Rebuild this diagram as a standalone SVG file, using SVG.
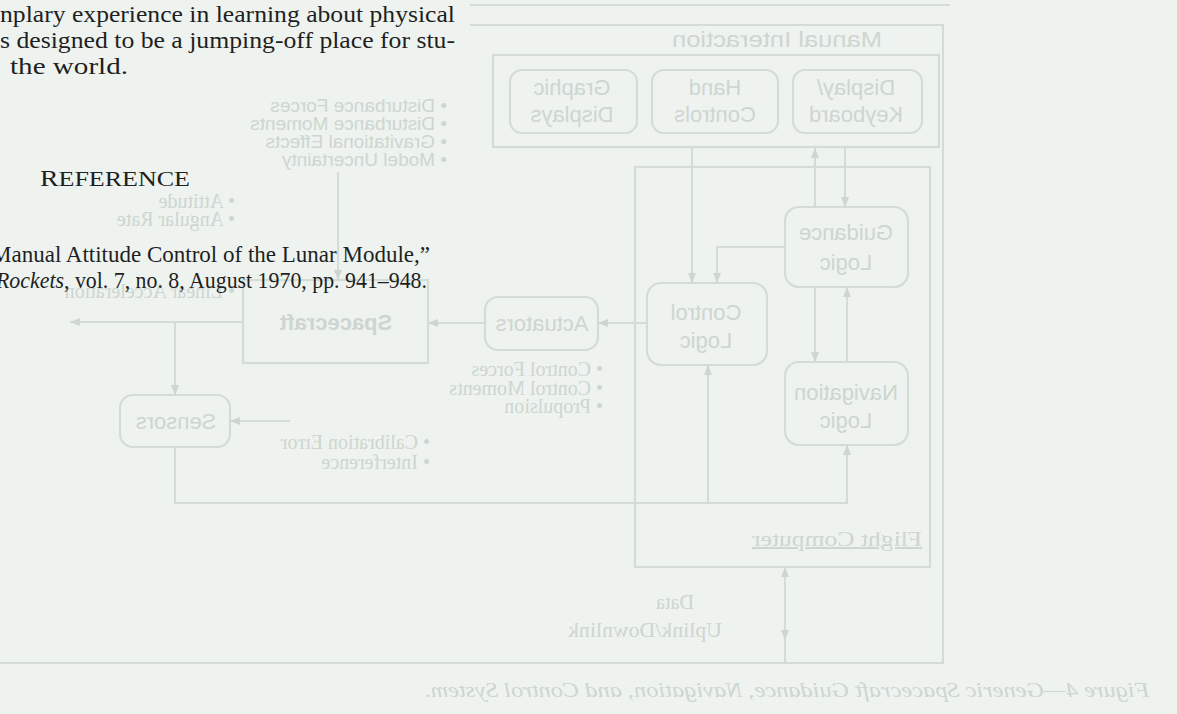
<svg xmlns="http://www.w3.org/2000/svg" width="1177" height="714" viewBox="0 0 1177 714">
<defs>
<style>
.fg{font-family:"Liberation Serif",serif;fill:#1f1f1f;font-size:23.5px}
.ln{fill:none;stroke:#d4dcd7;stroke-width:2}
.bx{fill:none;stroke:#d4dcd7;stroke-width:2.2}
.t{font-family:"Liberation Sans",sans-serif;font-size:22px;fill:#cdd6d0;text-anchor:middle}
.tb{font-weight:bold}
.ls{font-family:"Liberation Sans",sans-serif;font-size:19px;fill:#cdd6d0}
.lr{font-family:"Liberation Serif",serif;font-size:20px;fill:#cdd6d0}
.arr{fill:none;stroke:#d4dcd7;stroke-width:2;marker-end:url(#ah)}
</style>
<marker id="ah" viewBox="0 0 10 8" refX="10" refY="4" markerWidth="11" markerHeight="8" orient="auto" markerUnits="userSpaceOnUse"><path d="M0,0 L10,4 L0,8 Z" fill="#cdd6d0"/></marker>
</defs>
<rect width="1177" height="714" fill="#eef3ef"/>

<g id="frame">
<path class="ln" d="M470,5 H950"/>
<path class="ln" d="M470,25 H943 V663 H0"/>
</g>

<g id="manual-interaction">
<rect class="bx" x="493" y="55" width="446" height="92"/>
<text class="t" transform="translate(777,0) scale(-1,1)" x="0" y="47" textLength="210" lengthAdjust="spacingAndGlyphs">Manual Interaction</text>
</g>
<g id="graphic-displays">
<rect class="bx" x="510" y="70" width="127" height="63" rx="12"/>
<text class="t" transform="translate(572,0) scale(-1,1)" x="0" y="95">Graphic</text>
<text class="t" transform="translate(572,0) scale(-1,1)" x="0" y="122">Displays</text>
</g>
<g id="hand-controls">
<rect class="bx" x="652" y="70" width="126" height="63" rx="12"/>
<text class="t" transform="translate(715,0) scale(-1,1)" x="0" y="95">Hand</text>
<text class="t" transform="translate(715,0) scale(-1,1)" x="0" y="122">Controls</text>
</g>
<g id="display-keyboard">
<rect class="bx" x="793" y="70" width="129" height="63" rx="12"/>
<text class="t" transform="translate(856,0) scale(-1,1)" x="0" y="95">Display/</text>
<text class="t" transform="translate(856,0) scale(-1,1)" x="0" y="122">Keyboard</text>
</g>

<g id="flight-computer">
<rect class="bx" x="635" y="167" width="295" height="400"/>
<text class="lr" transform="translate(837,0) scale(-1,1)" x="0" y="546" text-anchor="middle" font-size="22" text-decoration="underline" textLength="170" lengthAdjust="spacingAndGlyphs">Flight Computer</text>
</g>
<g id="guidance-logic">
<rect class="bx" x="785" y="207" width="123" height="80" rx="14"/>
<text class="t" transform="translate(846,0) scale(-1,1)" x="0" y="240">Guidance</text>
<text class="t" transform="translate(846,0) scale(-1,1)" x="0" y="270">Logic</text>
</g>
<g id="control-logic">
<rect class="bx" x="647" y="283" width="120" height="82" rx="14"/>
<text class="t" transform="translate(706,0) scale(-1,1)" x="0" y="320">Control</text>
<text class="t" transform="translate(706,0) scale(-1,1)" x="0" y="348">Logic</text>
</g>
<g id="navigation-logic">
<rect class="bx" x="785" y="362" width="123" height="83" rx="14"/>
<text class="t" transform="translate(846,0) scale(-1,1)" x="0" y="400">Navigation</text>
<text class="t" transform="translate(846,0) scale(-1,1)" x="0" y="428">Logic</text>
</g>
<g id="actuators">
<rect class="bx" x="485" y="297" width="113" height="53" rx="13"/>
<text class="t" transform="translate(542,0) scale(-1,1)" x="0" y="331">Actuators</text>
</g>
<g id="spacecraft">
<rect class="bx" x="243" y="280" width="185" height="83"/>
<text class="t tb" transform="translate(336,0) scale(-1,1)" x="0" y="330">Spacecraft</text>
</g>
<g id="sensors">
<rect class="bx" x="120" y="395" width="110" height="52" rx="13"/>
<text class="t" transform="translate(176,0) scale(-1,1)" x="0" y="429">Sensors</text>
</g>

<g id="disturbance-list" transform="translate(447,0) scale(-1,1)">
<text class="ls" x="0" y="112">• Disturbance Forces</text>
<text class="ls" x="0" y="130">• Disturbance Moments</text>
<text class="ls" x="0" y="148">• Gravitational Effects</text>
<text class="ls" x="0" y="166">• Model Uncertainty</text>
</g>
<g id="state-list" transform="translate(235,0) scale(-1,1)">
<text class="lr" x="0" y="208">• Attitude</text>
<text class="lr" x="0" y="226">• Angular Rate</text>
<text class="lr" x="0" y="298">• Linear Acceleration</text>
</g>
<g id="actuator-list" transform="translate(603,0) scale(-1,1)">
<text class="lr" x="0" y="376">• Control Forces</text>
<text class="lr" x="0" y="395">• Control Moments</text>
<text class="lr" x="0" y="413">• Propulsion</text>
</g>
<g id="sensor-list" transform="translate(430,0) scale(-1,1)">
<text class="lr" x="0" y="449">• Calibration Error</text>
<text class="lr" x="0" y="469">• Interference</text>
</g>
<g id="data-link">
<text class="lr" transform="translate(675,0) scale(-1,1)" x="0" y="609" text-anchor="middle" font-size="21">Data</text>
<text class="lr" transform="translate(645,0) scale(-1,1)" x="0" y="637" text-anchor="middle" font-size="21" textLength="154" lengthAdjust="spacingAndGlyphs">Uplink/Downlink</text>
</g>
<g id="caption">
<text class="lr" transform="translate(787,0) scale(-1,1)" x="0" y="697" text-anchor="middle" font-size="21" font-style="italic" textLength="725" lengthAdjust="spacingAndGlyphs">Figure 4—Generic Spacecraft Guidance, Navigation, and Control System.</text>
</g>

<g id="connectors">
<path class="arr" d="M338,172 V280"/>
<path class="arr" d="M692,147 V283"/>
<path class="arr" d="M815,207 V148"/>
<path class="arr" d="M845,147 V207"/>
<path class="arr" d="M785,247 H717 V283"/>
<path class="arr" d="M815,287 V362"/>
<path class="arr" d="M847,362 V287"/>
<path class="arr" d="M647,323 H598"/>
<path class="arr" d="M485,323 H428"/>
<path class="arr" d="M243,322 H70"/>
<path class="arr" d="M175,322 V395"/>
<path class="arr" d="M290,421 H230"/>
<path class="arr" d="M175,447 V503 H847 V445"/>
<path class="arr" d="M708,503 V365"/>
<path class="arr" d="M785,600 V567"/>
<path class="arr" d="M785,600 V640"/>
<path class="ln" d="M785,640 V663"/>
</g>

<g id="page-text">
<text class="fg" x="0" y="22" textLength="455" lengthAdjust="spacingAndGlyphs">nplary experience in learning about physical</text>
<text class="fg" x="0" y="48" textLength="455" lengthAdjust="spacingAndGlyphs">s designed to be a jumping-off place for stu-</text>
<text class="fg" x="10" y="74" textLength="118" lengthAdjust="spacingAndGlyphs">the world.</text>
<text class="fg" x="40" y="186" font-size="28" textLength="150" lengthAdjust="spacingAndGlyphs">R<tspan font-size="22">EFERENCE</tspan></text>
<text class="fg" x="-9" y="262" textLength="439" lengthAdjust="spacingAndGlyphs">Manual Attitude Control of the Lunar Module,”</text>
<text class="fg" x="-4" y="288" textLength="431" lengthAdjust="spacingAndGlyphs"><tspan font-style="italic">Rockets</tspan>, vol. 7, no. 8, August 1970, pp. 941–948.</text>
</g>
</svg>
